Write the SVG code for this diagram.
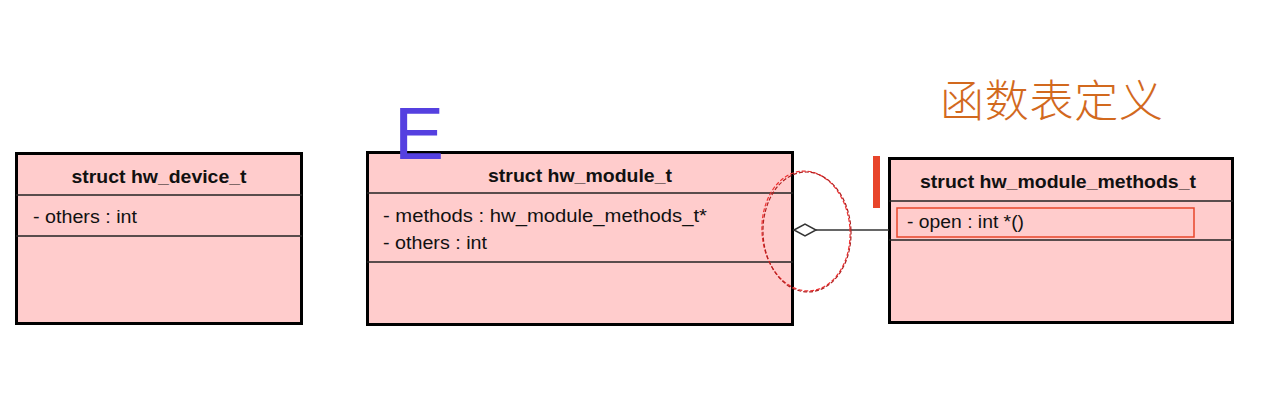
<svg xmlns="http://www.w3.org/2000/svg" width="1266" height="408" viewBox="0 0 1266 408">
<style>
.box{fill:#ffcccc;stroke:#000;stroke-width:3}
.div{stroke:#222;stroke-width:1.5}
.title{font-family:"Liberation Sans",Arial,sans-serif;font-weight:bold;font-size:18px;fill:#111;text-anchor:middle}
.attr{font-family:"Liberation Sans",Arial,sans-serif;font-size:18px;fill:#111}
.conn{stroke:#333;stroke-width:1.5;fill:none}
</style>
<rect width="1266" height="408" fill="#fff"/>
<g id="hw_device_t">
<rect class="box" x="16.5" y="153.5" width="285" height="170"/>
<line class="div" x1="16" y1="195" x2="302" y2="195"/>
<line class="div" x1="16" y1="236" x2="302" y2="236"/>
<text class="title" x="159" y="183" textLength="175" lengthAdjust="spacingAndGlyphs">struct hw_device_t</text>
<text class="attr" x="33" y="223" textLength="104" lengthAdjust="spacingAndGlyphs">- others : int</text>
</g>
<g id="hw_module_t">
<rect class="box" x="367.5" y="152.5" width="425" height="172"/>
<line class="div" x1="367" y1="193" x2="793" y2="193"/>
<line class="div" x1="367" y1="262" x2="793" y2="262"/>
<text class="title" x="580" y="182" textLength="184" lengthAdjust="spacingAndGlyphs">struct hw_module_t</text>
<text class="attr" x="383" y="222" textLength="324" lengthAdjust="spacingAndGlyphs">- methods : hw_module_methods_t*</text>
<text class="attr" x="383" y="249" textLength="104" lengthAdjust="spacingAndGlyphs">- others : int</text>
</g>
<g id="hw_module_methods_t">
<rect class="box" x="889.5" y="158.5" width="343" height="164"/>
<line class="div" x1="889" y1="201" x2="1233" y2="201"/>
<line class="div" x1="889" y1="240" x2="1233" y2="240"/>
<text class="title" x="1058" y="188" textLength="276" lengthAdjust="spacingAndGlyphs">struct hw_module_methods_t</text>
<text class="attr" x="907" y="228" textLength="117" lengthAdjust="spacingAndGlyphs">- open : int *()</text>
<rect x="897" y="208" width="297" height="29" fill="none" stroke="#e8452a" stroke-width="1.5"/>
</g>
<g id="connectors">
<line class="conn" x1="816" y1="230" x2="889" y2="230"/>
<polygon points="794,230 805,224 816,230 805,236" fill="#fff" stroke="#333" stroke-width="1.5"/>
</g>
<g id="annotations">
<ellipse cx="806" cy="231" rx="44" ry="60" fill="none" stroke="#f03030" stroke-width="1.2" stroke-dasharray="4,2" transform="rotate(-4 806 231)"/>
<ellipse cx="807" cy="232" rx="44" ry="60" fill="none" stroke="#b02020" stroke-width="1.2" stroke-dasharray="4,2" transform="rotate(-2 807 232)"/>
<text x="394" y="159" font-family="Liberation Sans,Arial,sans-serif" font-size="75" fill="#5540e0">E</text>
<rect x="873" y="156" width="7" height="52" fill="#e8452a"/>
<text x="940" y="117" font-family="Noto Sans CJK SC,sans-serif" font-size="44" font-weight="300" fill="#d2691e" textLength="223" lengthAdjust="spacing">函数表定义</text>
</g>
</svg>
